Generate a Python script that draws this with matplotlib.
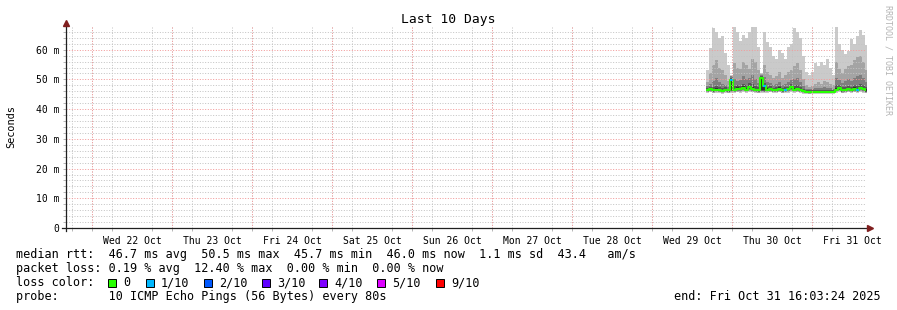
import numpy as np
import matplotlib
matplotlib.use("Agg")
import matplotlib.pyplot as plt
import matplotlib.dates as mdates
import pandas as pd
from matplotlib.patches import Rectangle
from matplotlib.ticker import FuncFormatter, MultipleLocator

plt.rcParams["font.family"] = ["DejaVu Sans Mono", "DejaVu Sans"]
plt.rcParams["lines.scale_dashes"] = False

W, H = 897, 310

# ---------------- data ----------------
end_time = pd.Timestamp("2025-10-31 16:03:24")
start_time = end_time - pd.Timedelta(days=10)
data_start = "2025-10-29 16:12"
step_minutes = 54

median_ms = [46.5, 46.8, 46.3, 46.6, 46.4, 46.2, 46.5, 46.3, 49.8, 46.4,
             46.9, 46.7, 47.2, 46.6, 47.4, 46.9, 46.5, 46.3, 50.5, 47.8,
             46.6, 46.8, 46.4, 46.5, 46.9, 46.3, 46.5, 46.7, 47.3, 46.6,
             46.8, 46.4, 46.1, 45.8, 45.7, 45.8, 45.8, 45.9, 45.8, 45.9,
             45.8, 45.9, 45.8, 46.6, 47.1, 46.3, 46.5, 46.8, 46.4, 46.9,
             46.5, 47.2, 46.7, 46.3]
loss_count = [0, 0, 0, 0, 0, 0, 0, 0, 1, 0,
              0, 0, 0, 0, 0, 0, 0, 0, 0, 1,
              0, 0, 0, 0, 0, 0, 1, 0, 0, 0,
              0, 0, 0, 0, 0, 0, 0, 0, 0, 0,
              0, 0, 0, 0, 0, 0, 0, 0, 0, 0,
              1, 0, 0, 0]
# sorted ping round-trip times (ms), ping 1 = fastest, ping 10 = slowest
ping10 = [53.0, 60.5, 67.2, 66.0, 64.0, 64.5, 59.0, 55.0, 51.5, 67.6,
          66.0, 63.0, 65.0, 64.0, 66.0, 67.6, 67.6, 61.0, 52.0, 66.0,
          62.5, 61.0, 58.0, 57.0, 60.0, 59.0, 57.0, 61.0, 62.0, 67.2,
          66.0, 64.0, 58.0, 52.5, 51.5, 52.5, 55.5, 54.5, 56.0, 55.0,
          57.0, 54.0, 51.5, 67.6, 62.0, 60.0, 58.5, 59.5, 63.5, 62.0,
          64.5, 66.5, 65.0, 61.5]
ping9 = [49.0, 52.0, 55.0, 56.5, 54.0, 53.0, 51.5, 49.5, 51.2, 55.5,
         54.0, 53.5, 56.0, 55.0, 53.5, 57.0, 56.0, 53.0, 51.8, 55.0,
         52.5, 51.5, 50.5, 51.0, 52.5, 50.5, 51.5, 52.5, 53.0, 54.5,
         55.5, 53.0, 50.0, 48.0, 47.5, 47.8, 48.5, 49.0, 48.5, 49.5,
         49.0, 48.5, 48.0, 56.0, 53.5, 52.0, 53.5, 54.5, 55.0, 56.5,
         57.5, 58.0, 56.0, 53.0]
ping8 = [47.8, 48.5, 49.5, 50.5, 49.0, 48.6, 48.2, 47.6, 51.0, 50.0,
         49.5, 49.8, 51.0, 50.2, 50.5, 51.5, 50.0, 48.8, 51.4, 50.8,
         49.0, 48.8, 48.2, 48.5, 49.2, 48.0, 48.6, 49.0, 49.8, 50.2,
         50.5, 49.0, 47.8, 46.9, 46.7, 46.8, 47.0, 47.2, 47.0, 47.3,
         47.1, 47.0, 46.9, 50.5, 49.8, 48.8, 49.5, 50.0, 49.6, 50.5,
         51.0, 51.5, 50.5, 49.0]
ping7 = [47.2, 47.5, 47.3, 47.8, 47.4, 47.0, 47.3, 46.9, 50.6, 47.8,
         48.0, 47.9, 48.6, 48.0, 48.8, 48.3, 47.8, 47.4, 51.0, 48.9,
         47.6, 47.7, 47.2, 47.3, 47.9, 47.0, 47.4, 47.6, 48.3, 47.8,
         48.0, 47.4, 46.9, 46.4, 46.3, 46.4, 46.5, 46.5, 46.4, 46.6,
         46.5, 46.5, 46.4, 48.0, 48.2, 47.3, 47.6, 47.9, 47.5, 48.1,
         47.9, 48.5, 48.0, 47.3]
ping6 = [46.8, 47.1, 46.7, 47.0, 46.8, 46.6, 46.9, 46.6, 50.2, 46.9,
         47.3, 47.1, 47.7, 47.0, 47.9, 47.3, 46.9, 46.7, 50.7, 48.2,
         47.0, 47.2, 46.8, 46.9, 47.3, 46.7, 46.9, 47.1, 47.7, 47.0,
         47.2, 46.8, 46.5, 46.1, 46.0, 46.1, 46.1, 46.2, 46.1, 46.2,
         46.1, 46.2, 46.1, 47.0, 47.5, 46.7, 46.9, 47.2, 46.8, 47.3,
         46.9, 47.6, 47.1, 46.7]
ping5 = [46.3, 46.6, 46.1, 46.4, 46.2, 46.0, 46.3, 46.1, 46.3, 46.2,
         46.7, 46.5, 47.0, 46.4, 47.1, 46.7, 46.3, 46.1, 46.4, 46.3,
         46.4, 46.6, 46.2, 46.3, 46.7, 46.1, 46.3, 46.5, 47.0, 46.4,
         46.6, 46.2, 45.9, 45.6, 45.5, 45.6, 45.6, 45.7, 45.6, 45.7,
         45.6, 45.7, 45.6, 46.4, 46.9, 46.1, 46.3, 46.6, 46.2, 46.7,
         46.3, 47.0, 46.5, 46.1]
ping4 = [46.1, 46.4, 45.9, 46.2, 46.0, 45.8, 46.1, 45.9, 46.1, 46.0,
         46.5, 46.3, 46.7, 46.2, 46.8, 46.5, 46.1, 45.9, 46.2, 46.1,
         46.2, 46.4, 46.0, 46.1, 46.5, 45.9, 46.1, 46.3, 46.7, 46.2,
         46.4, 46.0, 45.7, 45.5, 45.4, 45.5, 45.5, 45.6, 45.5, 45.6,
         45.5, 45.6, 45.5, 46.2, 46.6, 45.9, 46.1, 46.4, 46.0, 46.5,
         46.1, 46.7, 46.3, 45.9]
ping3 = [45.9, 46.2, 45.7, 46.0, 45.8, 45.6, 45.9, 45.7, 45.9, 45.8,
         46.2, 46.1, 46.4, 46.0, 46.5, 46.2, 45.9, 45.7, 46.0, 45.9,
         46.0, 46.2, 45.8, 45.9, 46.2, 45.7, 45.9, 46.1, 46.4, 46.0,
         46.2, 45.8, 45.6, 45.4, 45.3, 45.4, 45.4, 45.5, 45.4, 45.5,
         45.4, 45.5, 45.4, 46.0, 46.3, 45.7, 45.9, 46.2, 45.8, 46.2,
         45.9, 46.4, 46.1, 45.7]
ping2 = [45.7, 45.9, 45.5, 45.8, 45.6, 45.4, 45.7, 45.5, 45.7, 45.6,
         45.9, 45.8, 46.1, 45.8, 46.2, 45.9, 45.7, 45.5, 45.8, 45.7,
         45.8, 45.9, 45.6, 45.7, 45.9, 45.5, 45.7, 45.8, 46.1, 45.8,
         45.9, 45.6, 45.4, 45.3, 45.2, 45.3, 45.3, 45.4, 45.3, 45.4,
         45.3, 45.4, 45.3, 45.7, 46.0, 45.5, 45.7, 45.9, 45.6, 45.9,
         45.7, 46.1, 45.8, 45.5]
ping1 = [45.4, 45.6, 45.3, 45.5, 45.3, 45.2, 45.4, 45.3, 45.4, 45.3,
         45.6, 45.5, 45.7, 45.5, 45.8, 45.6, 45.4, 45.3, 45.5, 45.4,
         45.5, 45.6, 45.3, 45.4, 45.6, 45.3, 45.4, 45.5, 45.7, 45.5,
         45.6, 45.3, 45.2, 45.1, 45.0, 45.1, 45.1, 45.2, 45.1, 45.2,
         45.1, 45.2, 45.1, 45.4, 45.7, 45.3, 45.4, 45.6, 45.3, 45.6,
         45.4, 45.8, 45.5, 45.3]

loss_labels = ["0", "1/10", "2/10", "3/10", "4/10", "5/10", "9/10"]
loss_levels = [0, 1, 2, 3, 4, 5, 9]
loss_colors = ["#26ff00", "#00b8ff", "#0059ff", "#5e00ff", "#7e00ff", "#dd00ff", "#ff0000"]

legend_lines = [
    "median rtt:  46.7 ms avg  50.5 ms max  45.7 ms min  46.0 ms now  1.1 ms sd  43.4   am/s",
    "packet loss: 0.19 % avg  12.40 % max  0.00 % min  0.00 % now",
    "loss color:",
    "probe:       10 ICMP Echo Pings (56 Bytes) every 80s",
]
title = "Last 10 Days"
y_label = "Seconds"
end_label = "end: Fri Oct 31 16:03:24 2025"
watermark = "RRDTOOL / TOBI OETIKER"

# ---------------- figure ----------------
fig = plt.figure(figsize=(W / 100, H / 100), dpi=100)
fig.patch.set_facecolor("white")
ax_left, ax_right, ax_bot, ax_top = 66, 866, 228, 26.5
ax = fig.add_axes([ax_left / W, 1 - ax_bot / H, (ax_right - ax_left) / W, (ax_bot - ax_top) / H])
ax.set_facecolor("white")

n = len(median_ms)
times = pd.date_range(data_start, periods=n + 1, freq=f"{step_minutes}min")
xe = mdates.date2num(times.to_pydatetime())

def ext(a):
    a = np.asarray(a, dtype=float)
    return np.append(a, a[-1])

pings = [ping1, ping2, ping3, ping4, ping5, ping6, ping7, ping8, ping9, ping10]
half = 5
for ibot in range(1, half + 1):
    itop = 11 - ibot
    c = int(190 / half * (half - ibot)) + 50
    col = "#%02x%02x%02x" % (c, c, c)
    ax.fill_between(xe, ext(pings[ibot - 1]), ext(pings[itop - 1]), step="post",
                    color=col, linewidth=0, zorder=1 + ibot * 0.01, antialiased=False)

ax.step(xe, ext(median_ms), where="post", color=loss_colors[0], lw=1.5, zorder=3,
        solid_capstyle="butt")
lc = np.asarray(loss_count)
med = np.asarray(median_ms)
for lvl, colr in zip(loss_levels[1:], loss_colors[1:]):
    m = lc == lvl
    if m.any():
        ax.hlines(med[m], xe[:-1][m], xe[1:][m], colors=colr, lw=1.5, zorder=3.1)

# axes limits
x0 = mdates.date2num(start_time.to_pydatetime())
x1 = mdates.date2num(end_time.to_pydatetime())
ax.set_xlim(x0, x1)
ax.set_ylim(0, 67.8)

for s in ax.spines.values():
    s.set_visible(False)

minor_col = "#c4c4c4"
major_col = "#f29a9a"
dots = (0, (0.72, 1.2))
glw = 0.72

# y axis grid and labels
ax.yaxis.set_major_locator(MultipleLocator(10))
ax.yaxis.set_minor_locator(MultipleLocator(2))
ax.yaxis.set_major_formatter(FuncFormatter(lambda v, p: "0" if v == 0 else f"{v:.0f} m"))
ax.tick_params(axis="y", which="both", direction="out", length=2, width=0.6,
               color="#aaaaaa", labelsize=7.05, pad=3)
ax.grid(True, axis="y", which="minor", color=minor_col, lw=glw, ls=dots, zorder=4)
ax.grid(True, axis="y", which="major", color=major_col, lw=glw, ls=dots, zorder=4)

# x axis: minor 6h grid, day grid, labels at noon
days = pd.date_range("2025-10-22", "2025-10-31", freq="D")
six_h = pd.date_range(start_time.ceil("6h"), end_time, freq="6h")
noons = days + pd.Timedelta(hours=12)
ax.set_xticks(mdates.date2num(six_h.to_pydatetime()), minor=True)
ax.set_xticks(mdates.date2num(noons.to_pydatetime()))
ax.set_xticklabels([d.strftime("%a %d %b") for d in noons])
ax.tick_params(axis="x", which="major", length=0, labelsize=7.05, pad=6)
ax.tick_params(axis="x", which="minor", direction="out", length=2, width=0.6, color="#aaaaaa")
ax.grid(True, axis="x", which="minor", color=minor_col, lw=glw, ls=dots, zorder=4)
for d in mdates.date2num(days.to_pydatetime()):
    ax.axvline(d, color=major_col, lw=glw, ls=dots, zorder=4)
ax.set_axisbelow(False)

# axis lines with arrows
axis_col = "#1f1f1f"
arrow_col = "#801f1f"
w_px = ax_right - ax_left
h_px = ax_bot - ax_top
ax.plot([-4 / w_px, 1 + 2 / w_px], [0, 0], transform=ax.transAxes, color=axis_col,
        lw=0.9, clip_on=False, zorder=6)
ax.plot([0, 0], [-3 / h_px, 1 + 3 / h_px], transform=ax.transAxes, color=axis_col,
        lw=0.9, clip_on=False, zorder=6)
ax.plot([1 + 4 / w_px], [0], marker=">", ms=4.5, color=arrow_col, mec=arrow_col,
        transform=ax.transAxes, clip_on=False, zorder=7)
ax.plot([0], [1 + 4 / h_px], marker="^", ms=4.5, color=arrow_col, mec=arrow_col,
        transform=ax.transAxes, clip_on=False, zorder=7)

# texts
def fx(px):
    return px / W

def fy(py):
    return 1 - py / H

fig.text(fx(448), fy(19.5), title, ha="center", va="center", fontsize=9.4)
fig.text(fx(11), fy(127), y_label, ha="center", va="center", rotation=90, fontsize=7.4)
fig.text(fx(888), fy(5), watermark, ha="center", va="top", rotation=270,
         fontsize=6.0, color="#b4b4b4")

base = [258, 272, 286, 300]
for line, b in zip(legend_lines, base):
    fig.text(fx(16), fy(b), line, ha="left", va="baseline", fontsize=8.45)

box_x = [108, 146, 204, 262, 319, 377, 436]
for bx, lab, colr in zip(box_x, loss_labels, loss_colors):
    fig.patches.append(Rectangle((fx(bx), fy(287)), 8 / W, 8 / H, transform=fig.transFigure,
                                 facecolor=colr, edgecolor="black", lw=0.7))
    fig.text(fx(bx + 15), fy(286), lab, ha="left", va="baseline", fontsize=8.45)

fig.text(fx(881), fy(300), end_label, ha="right", va="baseline", fontsize=8.45)

fig.savefig("out.png", dpi=100, facecolor="white")
